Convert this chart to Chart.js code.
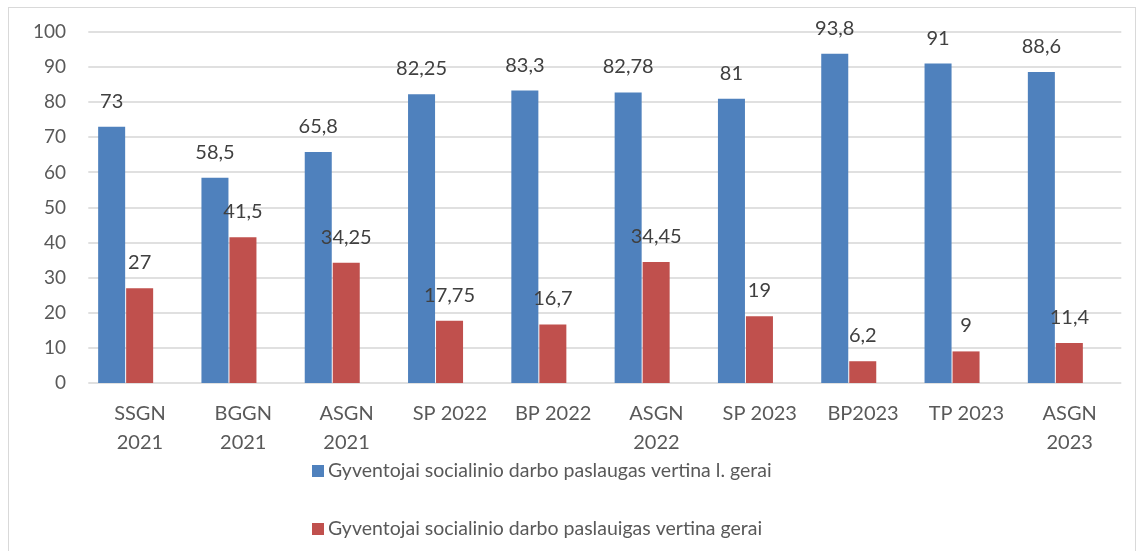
<!DOCTYPE html>
<html>
<head>
<meta charset="utf-8">
<script src="https://cdn.jsdelivr.net/npm/chart.js@4.4.1/dist/chart.umd.min.js"></script>
<style>
  html, body { margin: 0; padding: 0; background: #fff; }
  #wrap { position: relative; width: 1139px; height: 551px; }
  #frame { position: absolute; left: 8px; top: 7px; width: 1128px; height: 560px; border: 1px solid #d9d9d9; box-sizing: border-box; pointer-events: none; }
  canvas { position: absolute; left: 0; top: 0; }
</style>
</head>
<body>
<div id="wrap">
  <canvas id="c" width="1139" height="551"></canvas>
  <div id="frame"></div>
</div>
<script>
const categories = [
  ["SSGN", "2021"], ["BGGN", "2021"], ["ASGN", "2021"], ["SP 2022"], ["BP 2022"],
  ["ASGN", "2022"], ["SP 2023"], ["BP2023"], ["TP 2023"], ["ASGN", "2023"]
];
const seriesNames = [
  "Gyventojai socialinio darbo paslaugas vertina l. gerai",
  "Gyventojai socialinio darbo paslauigas vertina gerai"
];
const veryGood = [73, 58.5, 65.8, 82.25, 83.3, 82.78, 81, 93.8, 91, 88.6];
const good = [27, 41.5, 34.25, 17.75, 16.7, 34.45, 19, 6.2, 9, 11.4];
const yTicks = [0, 10, 20, 30, 40, 50, 60, 70, 80, 90, 100];

const FONT = "Lato, 'Open Sans', sans-serif";
const colors = ["#4F81BD", "#C0504D"];
const GRID_SHIFT = 14.3;

const fmt = v => String(v).replace(".", ",");

const gridPlugin = {
  id: "shiftedGrid",
  beforeDatasetsDraw(chart) {
    const ctx = chart.ctx;
    const y = chart.scales.y;
    const a = chart.chartArea;
    ctx.save();
    ctx.strokeStyle = "#d6d6d6";
    ctx.lineWidth = 1.5;
    yTicks.forEach(v => {
      const py = Math.round(y.getPixelForValue(v));
      ctx.beginPath();
      ctx.moveTo(a.left + GRID_SHIFT, py);
      ctx.lineTo(a.right + GRID_SHIFT, py);
      ctx.stroke();
    });
    ctx.restore();
  }
};

const labelPlugin = {
  id: "valueLabels",
  afterDatasetsDraw(chart) {
    const ctx = chart.ctx;
    ctx.save();
    ctx.font = "20px " + FONT;
    ctx.fillStyle = "#404040";
    ctx.textAlign = "center";
    ctx.textBaseline = "middle";
    chart.data.datasets.forEach((ds, di) => {
      const meta = chart.getDatasetMeta(di);
      meta.data.forEach((bar, i) => {
        ctx.fillText(fmt(ds.data[i]), bar.x, bar.y - 25.5);
      });
    });
    ctx.restore();
  }
};

const legendPlugin = {
  id: "stackedLegend",
  afterDraw(chart) {
    const ctx = chart.ctx;
    ctx.save();
    ctx.font = "19.5px " + FONT;
    ctx.textBaseline = "middle";
    ctx.textAlign = "left";
    const rows = [471, 529];
    chart.data.datasets.forEach((ds, di) => {
      const y = rows[di];
      ctx.fillStyle = ds.backgroundColor;
      ctx.fillRect(312, y - 6, 12, 12);
      ctx.fillStyle = "#595959";
      ctx.fillText(ds.label, 328, y);
    });
    ctx.restore();
  }
};

new Chart(document.getElementById("c"), {
  type: "bar",
  data: {
    labels: categories,
    datasets: [
      { label: seriesNames[0], data: veryGood, backgroundColor: colors[0], borderWidth: 0 },
      { label: seriesNames[1], data: good, backgroundColor: colors[1], borderWidth: 0 }
    ]
  },
  options: {
    responsive: false,
    animation: false,
    devicePixelRatio: 1,
    layout: { padding: { top: 32, right: 32, left: 0, bottom: 0 } },
    categoryPercentage: 0.542,
    barPercentage: 0.965,
    plugins: {
      legend: { display: false },
      tooltip: { enabled: false }
    },
    scales: {
      x: {
        grid: { display: false, drawTicks: false },
        border: { display: false },
        ticks: {
          font: { family: FONT, size: 20, lineHeight: 1.45 },
          color: "#595959",
          padding: 16,
          labelOffset: GRID_SHIFT,
          maxRotation: 0,
          autoSkip: false
        },
        afterFit(scale) { scale.height = 168; }
      },
      y: {
        min: 0, max: 100,
        afterBuildTicks(scale) { scale.ticks = yTicks.map(v => ({ value: v })); },
        grid: { display: false, drawTicks: false },
        border: { display: false },
        ticks: {
          font: { family: FONT, size: 19 },
          color: "#595959",
          padding: 8
        },
        afterFit(scale) { scale.width = 74; }
      }
    }
  },
  plugins: [gridPlugin, labelPlugin, legendPlugin]
});
</script>
</body>
</html>
